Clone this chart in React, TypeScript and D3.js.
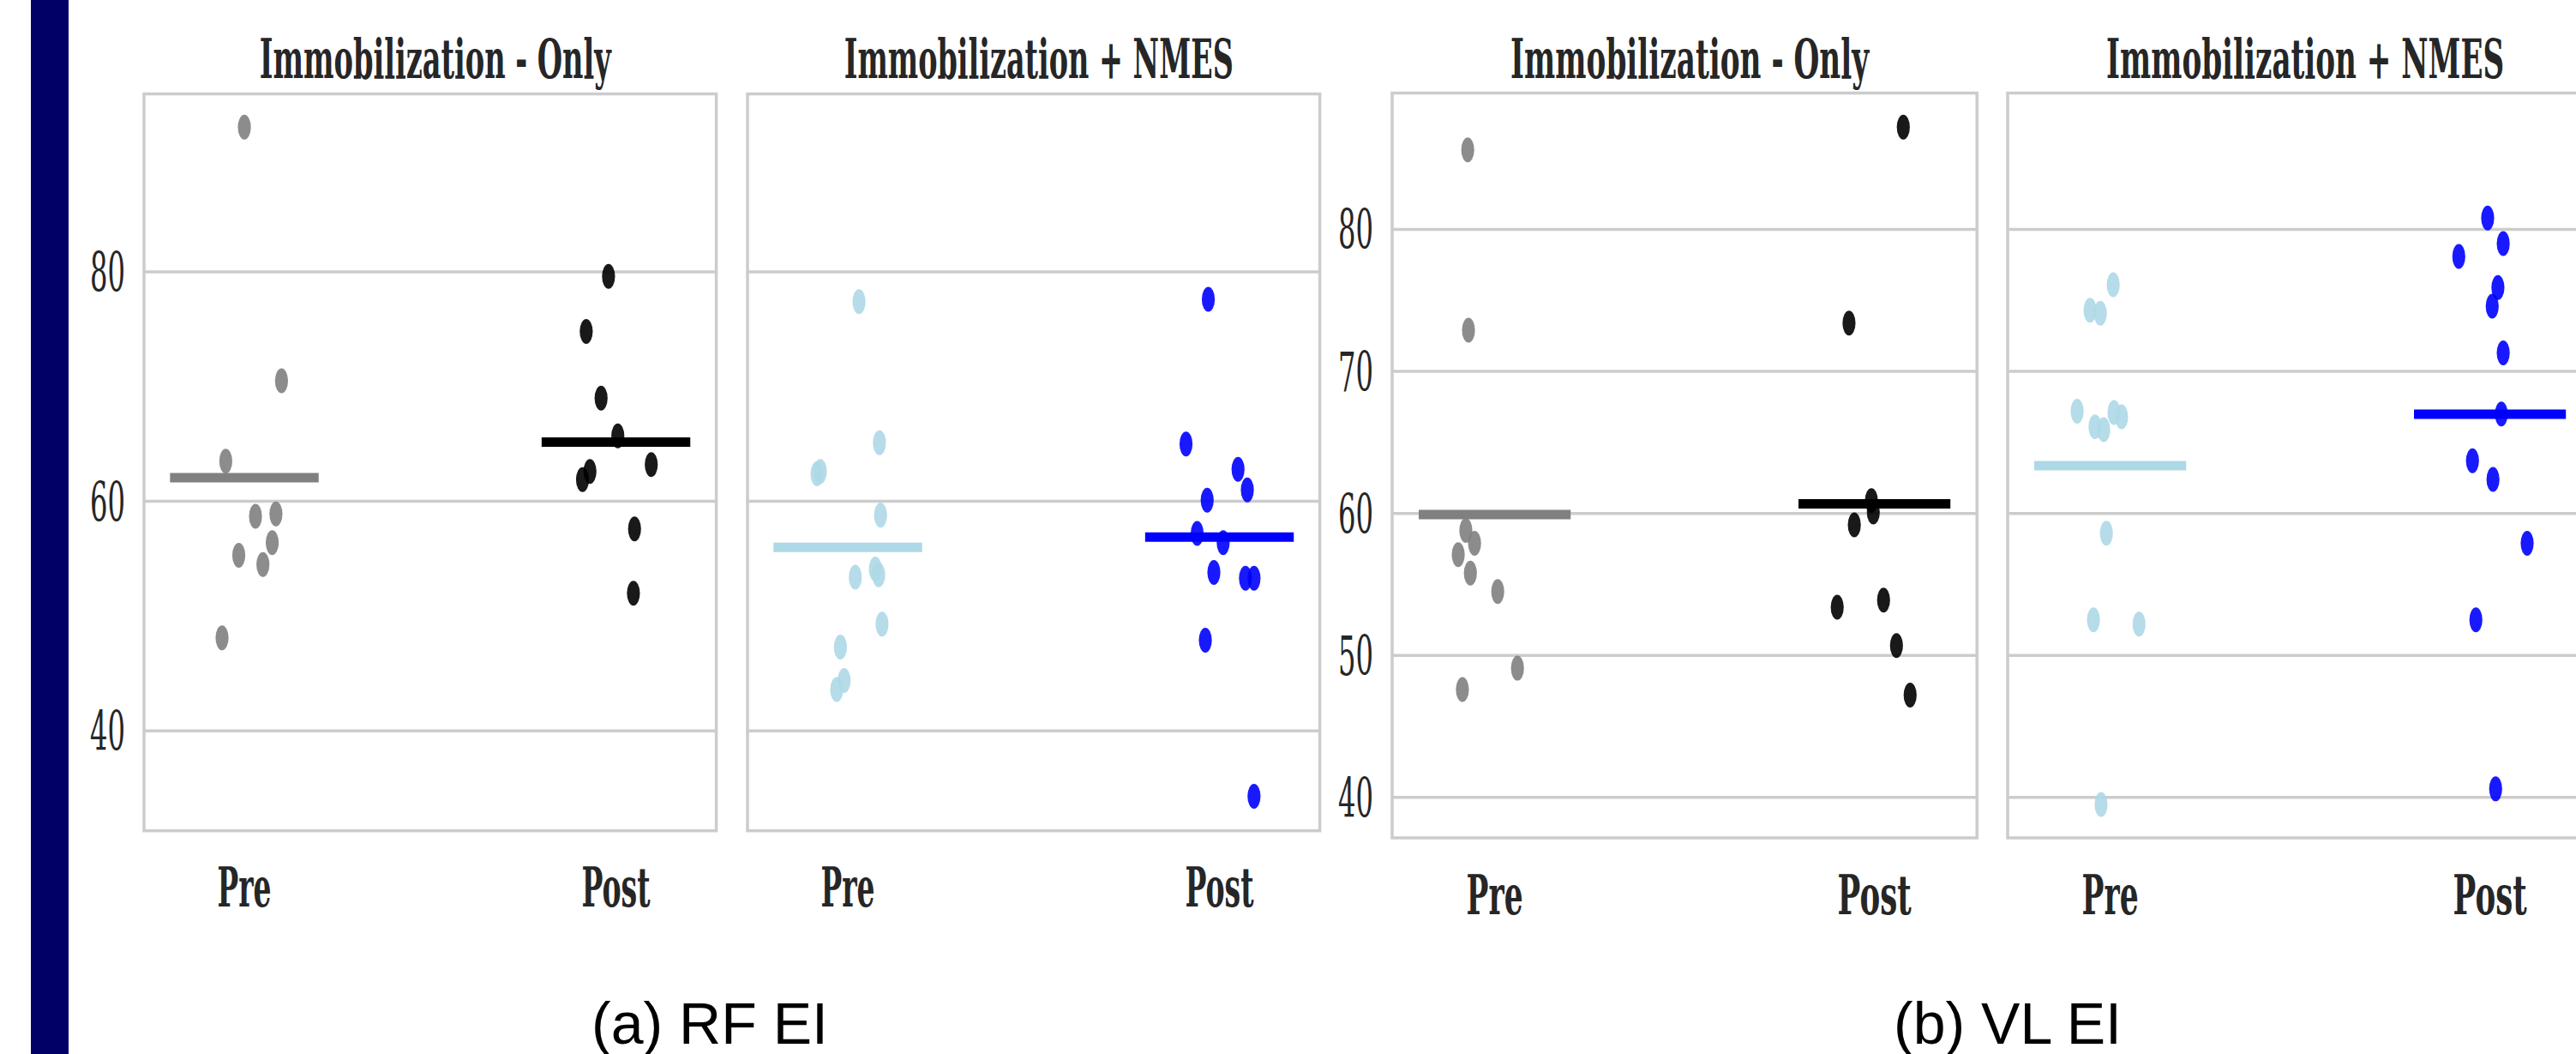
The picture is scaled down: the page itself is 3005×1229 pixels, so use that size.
import React from 'react';
import * as d3 from 'd3';

// categories and panel titles
const categories = ['Pre', 'Post'];
const groupTitles = ['Immobilization - Only', 'Immobilization + NMES'];
const captions = ['(a) RF EI', '(b) VL EI'];

// axis ticks and limits
const rfTicks = [40, 60, 80];
const vlTicks = [40, 50, 60, 70, 80];
const rfLimits = [31.3, 95.5];
const vlLimits = [37.15, 89.6];

// RF echo intensity
const rfImmobPre = [92.6, 70.5, 63.5, 58.7, 58.9, 56.4, 55.3, 54.5, 48.1];
const rfImmobPost = [79.6, 74.8, 69.0, 65.7, 62.6, 61.9, 63.2, 57.6, 52.0];
const rfNmesPre = [77.4, 65.1, 62.4, 62.6, 58.8, 53.4, 54.1, 53.6, 49.3, 47.3, 44.4, 43.6];
const rfNmesPost = [77.6, 65.0, 62.8, 61.0, 60.1, 57.2, 56.4, 53.8, 53.3, 53.3, 47.9, 34.3];

// VL echo intensity
const vlImmobPre = [85.6, 72.9, 58.8, 57.9, 57.1, 55.8, 54.5, 49.1, 47.6];
const vlImmobPost = [87.2, 73.4, 60.9, 60.1, 59.2, 53.4, 53.9, 50.7, 47.2];
const vlNmesPre = [76.1, 74.3, 74.1, 67.2, 67.1, 66.8, 66.1, 65.9, 58.6, 52.5, 52.2, 39.5];
const vlNmesPost = [80.8, 79.0, 78.1, 75.9, 74.6, 71.3, 67.0, 63.7, 62.4, 57.9, 52.5, 40.6];

// strip jitter (category units)
const rfImmobPreJit = [0.0, 0.1, -0.05, 0.03, 0.085, 0.075, -0.015, 0.05, -0.06];
const rfImmobPostJit = [-0.02, -0.08, -0.04, 0.005, -0.07, -0.09, 0.095, 0.05, 0.047];
const rfNmesPreJit = [0.03, 0.085, -0.083, -0.074, 0.088, 0.02, 0.074, 0.083, 0.092, -0.02, -0.01, -0.03];
const rfNmesPostJit = [-0.03, -0.09, 0.05, 0.075, -0.033, -0.06, 0.01, -0.015, 0.07, 0.093, -0.038, 0.093];
const vlImmobPreJit = [-0.071, -0.069, -0.076, -0.053, -0.096, -0.064, 0.008, 0.06, -0.085];
const vlImmobPostJit = [0.076, -0.067, -0.008, -0.003, -0.053, -0.098, 0.024, 0.058, 0.094];
const vlNmesPreJit = [0.008, -0.053, -0.026, -0.087, 0.01, 0.03, -0.04, -0.017, -0.01, -0.044, 0.076, -0.024];
const vlNmesPostJit = [-0.006, 0.035, -0.082, 0.021, 0.006, 0.035, 0.03, -0.046, 0.008, 0.098, -0.037, 0.015];

const colors = [
    ['#808080', '#000000'],
    ['#add8e6', '#0000ff'],
];

const TEXT = '#262626';
const GRID = '#cccccc';
const SERIF = '"DejaVu Serif", serif';

const Panel = ({ left, width, top, bottom, limits, ticks, title, titleLen, series, jitters, palette, showTicks, catLens, catY }) => {
    const x = d3.scaleLinear().domain([-0.27, 1.27]).range([left, left + width]);
    const y = d3.scaleLinear().domain(limits).range([bottom, top]);
    return (
        <g>
            {ticks.map(t => (
                <line key={t} x1={left} x2={left + width} y1={y(t)} y2={y(t)} stroke={GRID} strokeWidth={3.5} />
            ))}
            <rect x={left} y={top} width={width} height={bottom - top} fill="none" stroke={GRID} strokeWidth={3.5} />
            {showTicks && ticks.map(t => (
                <text key={'t' + t} x={left - 22} y={y(t) + 23} textAnchor="end" fontFamily={SERIF} fontSize={64}
                    fill={TEXT} textLength={41} lengthAdjust="spacingAndGlyphs">{t}</text>
            ))}
            <text x={left + width / 2 + 6} y={91} textAnchor="middle" fontFamily={SERIF} fontWeight="bold" fontSize={63}
                fill={TEXT} textLength={titleLen} lengthAdjust="spacingAndGlyphs">{title}</text>
            {categories.map((c, i) => (
                <text key={c} x={x(i)} y={catY} textAnchor="middle" fontFamily={SERIF} fontWeight="bold" fontSize={64}
                    fill={TEXT} textLength={catLens[i]} lengthAdjust="spacingAndGlyphs">{c}</text>
            ))}
            {series.map((vals, i) => {
                const m = d3.mean(vals);
                return (
                    <line key={'m' + i} x1={x(i - 0.2)} x2={x(i + 0.2)} y1={y(m)} y2={y(m)} stroke={palette[i]} strokeWidth={11} />
                );
            })}
            {series.map((vals, i) => vals.map((v, j) => (
                <ellipse key={i + '-' + j} cx={x(i + jitters[i][j])} cy={y(v)} rx={7.6} ry={14.5}
                    fill={palette[i]} fillOpacity={0.9} />
            )))}
        </g>
    );
};

const App = () => {
    const rfW = 1.54 * 433.5;
    const vlW = 1.54 * 443;
    return (
        <svg width={3005} height={1229} style={{ position: 'absolute', left: 0, top: 0, background: '#fff' }}>
            <rect x={36} y={0} width={44} height={1229} fill="#000066" />

            <Panel left={168} width={rfW} top={109.5} bottom={968.7} limits={rfLimits} ticks={rfTicks}
                title={groupTitles[0]} titleLen={410} series={[rfImmobPre, rfImmobPost]}
                jitters={[rfImmobPreJit, rfImmobPostJit]} palette={colors[0]} showTicks catLens={[63, 80]} catY={1057} />
            <Panel left={872} width={rfW} top={109.5} bottom={968.7} limits={rfLimits} ticks={rfTicks}
                title={groupTitles[1]} titleLen={454} series={[rfNmesPre, rfNmesPost]}
                jitters={[rfNmesPreJit, rfNmesPostJit]} palette={colors[1]} showTicks={false} catLens={[63, 80]} catY={1057} />
            <Panel left={1624} width={vlW} top={108.5} bottom={977} limits={vlLimits} ticks={vlTicks}
                title={groupTitles[0]} titleLen={418} series={[vlImmobPre, vlImmobPost]}
                jitters={[vlImmobPreJit, vlImmobPostJit]} palette={colors[0]} showTicks catLens={[66, 86]} catY={1066} />
            <Panel left={2342} width={vlW} top={108.5} bottom={977} limits={vlLimits} ticks={vlTicks}
                title={groupTitles[1]} titleLen={464} series={[vlNmesPre, vlNmesPost]}
                jitters={[vlNmesPreJit, vlNmesPostJit]} palette={colors[1]} showTicks={false} catLens={[66, 86]} catY={1066} />

            <text x={828} y={1217} textAnchor="middle" fontFamily='"Liberation Sans", Arial, sans-serif' fontSize={68} fill="#000">{captions[0]}</text>
            <text x={2342} y={1217} textAnchor="middle" fontFamily='"Liberation Sans", Arial, sans-serif' fontSize={68} fill="#000">{captions[1]}</text>
        </svg>
    );
};

export default App;
